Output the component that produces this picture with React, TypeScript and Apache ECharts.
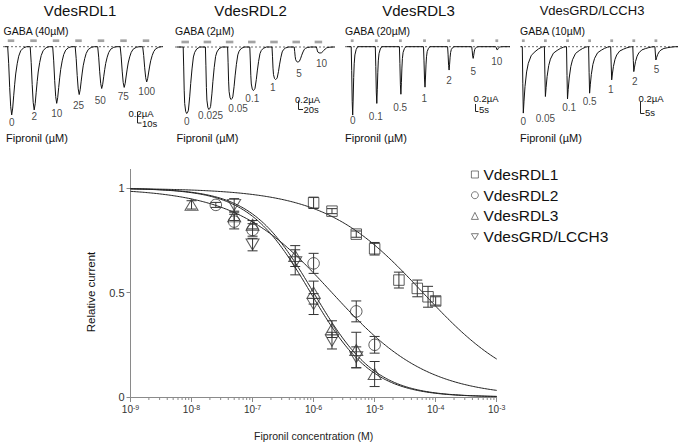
import React, { useEffect, useRef } from "react";
import * as echarts from "echarts";

const FONT = '"Liberation Sans", Arial, Helvetica, sans-serif';

// ---------- Top panels (current traces) ----------
const panelTitles = ["VdesRDL1", "VdesRDL2", "VdesRDL3", "VdesGRD/LCCH3"];
const gabaLabels = ["GABA (40µM)", "GABA (2µM)", "GABA (20µM)", "GABA (10µM)"];
const dosesRDL1 = ["0", "2", "10", "25", "50", "75", "100"];
const dosesRDL2 = ["0", "0.025", "0.05", "0.1", "1", "5", "10"];
const dosesRDL3 = ["0", "0.1", "0.5", "1", "2", "5", "10"];
const dosesGRD = ["0", "0.05", "0.1", "0.5", "1", "2", "5"];
// peak GABA currents (µA)
const peaksRDL1 = [1.24, 1.15, 1.03, 0.87, 0.76, 0.74, 0.64];
const peaksRDL2 = [1.33, 1.25, 1.05, 0.87, 0.65, 0.3, 0.12];
const peaksRDL3 = [1.64, 1.36, 1.14, 0.97, 0.56, 0.28, 0.08];
const peaksGRD = [0.8, 0.6, 0.63, 0.56, 0.4, 0.3, 0.16];

// ---------- Concentration-response data ----------
const seriesNames = ["VdesRDL1", "VdesRDL2", "VdesRDL3", "VdesGRD/LCCH3"];
const concRDL1 = [1e-6, 2e-6, 5e-6, 1e-5, 2.5e-5, 5e-5, 7.5e-5, 1e-4];
const relRDL1 = [0.93, 0.89, 0.78, 0.71, 0.56, 0.52, 0.48, 0.46];
const semRDL1 = [0.027, 0.012, 0.015, 0.03, 0.038, 0.04, 0.05, 0.02];
const concRDL2 = [2.5e-8, 5e-8, 1e-7, 1e-6, 5e-6, 1e-5];
const relRDL2 = [0.92, 0.84, 0.8, 0.64, 0.41, 0.25];
const semRDL2 = [0.012, 0.035, 0.03, 0.048, 0.05, 0.04];
const concRDL3 = [1e-8, 5e-8, 1e-7, 5e-7, 1e-6, 2e-6, 5e-6, 1e-5];
const relRDL3 = [0.92, 0.865, 0.825, 0.675, 0.5, 0.325, 0.225, 0.11];
const semRDL3 = [0.02, 0.02, 0.02, 0.05, 0.055, 0.04, 0.085, 0.06];
const concGRD = [5e-8, 1e-7, 5e-7, 1e-6, 2e-6, 5e-6];
const relGRD = [0.92, 0.73, 0.645, 0.445, 0.27, 0.19];
const semGRD = [0.03, 0.03, 0.06, 0.05, 0.04, 0.05];
// Hill fit parameters
const fitLogIC50 = [-4.21, -5.7, -6.0, -6.05];
const fitHill = [0.54, 0.55, 0.85, 0.85];
const yTickValues = [0, 0.5, 1];

// ---------- styles / layout ----------
// waveform templates: [dx px from peak tip, fraction of peak]
const T1 = [[-4, 0], [-3, 0.25], [-2, 0.6], [-1, 0.88], [0, 1], [1, 0.9], [2, 0.72], [3, 0.55], [4, 0.4], [5.5, 0.25], [7, 0.14], [9, 0.06], [12, 0.015], [15, 0]];
const T2 = [[-3.5, 0], [-3, 0.3], [-2.5, 0.65], [-2, 0.85], [-1, 0.97], [0, 1], [1, 0.98], [1.7, 0.95], [3, 0.75], [4, 0.55], [5.3, 0.33], [6.7, 0.15], [8, 0.08], [10, 0.03], [13, 0]];
const T3 = [[-1.5, 0], [-1, 0.35], [-0.5, 0.8], [0, 1], [0.5, 0.75], [1, 0.45], [1.5, 0.25], [2.2, 0.12], [3.5, 0.04], [5, 0]];
const T4 = [[-1, 0], [-0.5, 0.55], [0, 1], [0.7, 0.82], [1.7, 0.6], [3.3, 0.38], [5, 0.25], [8, 0.13], [11.7, 0.075], [15, 0.035], [18, 0.01], [20, 0]];

const panelDoses = [dosesRDL1, dosesRDL2, dosesRDL3, dosesGRD];
const panelPeaks = [peaksRDL1, peaksRDL2, peaksRDL3, peaksGRD];

const layout = [
  { xStart: 3, xEnd: 163, traceStart: 5, tip0: 11.7, sp: 22.5, k: 55, baseY: 46.7, barW: 6.5, barDx: -0.7, barDy: -6, tmpl: T1, titleX: 80, titleSize: 15, textX: 3.5, fipX: 6,
    labelOff: [[0, 8], [0, 7], [0, 10.5], [-0.7, 10.5], [-1.5, 11.5], [-1, 9.5], [0, 10]],
    scale: { tx: 128.5, ty: 113.5, vx: 137.5, vy1: 112, vy2: 123, hx2: 141.5, sLabel: "10s", sx: 142, sy: 123 } },
  { xStart: 175, xEnd: 335, traceStart: 177, tip0: 186.7, sp: 22.2, k: 50, baseY: 47, barW: 7.5, barDx: -1.5, barDy: -5, tmpl: T2, titleX: 250.5, titleSize: 15, textX: 175, fipX: 176.5,
    labelOff: [[0, 8.4], [1.7, 5.7], [7, 8.8], [-1, 8], [-2.7, 8.3], [1.3, 11], [1.7, 10]],
    scale: { tx: 295, ty: 99, vx: 298.5, vy1: 100.5, vy2: 109.5, hx2: 303, sLabel: "20s", sx: 303.5, sy: 109.5 } },
  { xStart: 345, xEnd: 510, traceStart: 347, tip0: 352.7, sp: 24.1, k: 41.7, baseY: 46.7, barW: 2.8, barDx: -0.5, barDy: -6, tmpl: T3, titleX: 418.5, titleSize: 15, textX: 345, fipX: 345,
    labelOff: [[0, 5], [-1, 13], [-0.7, 13], [-0.7, 11], [0, 10], [0, 13], [-0.6, 11.7]],
    scale: { tx: 473.5, ty: 98.5, vx: 475.5, vy1: 104, vy2: 111.5, hx2: 478.5, sLabel: "5s", sx: 479, sy: 109 } },
  { xStart: 520, xEnd: 678, traceStart: 521, tip0: 523.3, sp: 22.1, k: 83, baseY: 46.7, barW: 2.8, barDx: 0, barDy: -6, tmpl: T4, titleX: 592, titleSize: 13, textX: 520, fipX: 520,
    labelOff: [[0, 8.4], [0, 21.6], [1.7, 9], [0, 8.4], [-1, 10], [1, 10], [0.7, 10]],
    scale: { tx: 638.5, ty: 98.5, vx: 640.5, vy1: 101.5, vy2: 113.5, hx2: 644.5, sLabel: "5s", sx: 645, sy: 112 } },
];

const PANEL_TOP = 28;
const PANEL_BOTTOM = 132;

function buildTrace(i: number) {
  const p = layout[i];
  const pts: number[][] = [[(p.traceStart - p.tip0) / p.sp, 0]];
  panelPeaks[i].forEach((a, j) => {
    p.tmpl.forEach(([dx, f]) => pts.push([j + dx / p.sp, -a * f]));
  });
  pts.push([(p.xEnd - p.tip0) / p.sp, 0]);
  return pts;
}

function buildFit(g: number) {
  const pts: number[][] = [];
  for (let s = 0; s <= 240; s++) {
    const lx = -9 + (6 * s) / 240;
    const r = Math.pow(10, fitHill[g] * (lx - fitLogIC50[g]));
    pts.push([Math.pow(10, lx), 1 / (1 + r)]);
  }
  return pts;
}

const groups = [
  { conc: concRDL1, rel: relRDL1, sem: semRDL1, symbol: "rect", size: [10.5, 10.5] },
  { conc: concRDL2, rel: relRDL2, sem: semRDL2, symbol: "circle", size: [11.5, 11.5] },
  { conc: concRDL3, rel: relRDL3, sem: semRDL3, symbol: "triangle", size: [13, 11] },
  { conc: concGRD, rel: relGRD, sem: semGRD, symbol: "path://M0,0L12,0L6,10Z", size: [13, 11] },
];

const minorTickVals: number[] = [];
for (let e = -9; e < -3; e++) for (let m = 2; m <= 9; m++) minorTickVals.push(m * Math.pow(10, e));

export default function App() {
  const ref = useRef<HTMLDivElement>(null);
  useEffect(() => {
    if (!ref.current) return;
    const chart = echarts.init(ref.current, undefined, { renderer: "svg" });
    const M = 4; // main grid index

    const grids: any[] = layout.map((p) => ({
      left: p.xStart, top: PANEL_TOP, width: p.xEnd - p.xStart, height: PANEL_BOTTOM - PANEL_TOP,
    }));
    grids.push({ left: 130.5, top: 169.4, width: 366.2, height: 228.9 });

    const xAxes: any[] = layout.map((p, i) => ({
      type: "value", gridIndex: i, show: false,
      min: (p.xStart - p.tip0) / p.sp, max: (p.xEnd - p.tip0) / p.sp,
    }));
    xAxes.push({
      type: "log", logBase: 10, gridIndex: M, min: 1e-9, max: 1e-3, splitNumber: 6,
      axisLine: { lineStyle: { color: "#8a8a8a", width: 1 } },
      axisTick: { length: 5, lineStyle: { color: "#8a8a8a" } },
      splitLine: { show: false },
      axisLabel: {
        margin: 7,
        formatter: (v: number) => `{b|10}{s|${Math.round(Math.log10(v))}}`,
        rich: {
          b: { fontSize: 10, fontFamily: FONT, color: "#333", lineHeight: 10, verticalAlign: "bottom" },
          s: { fontSize: 7, fontFamily: FONT, color: "#333", lineHeight: 7, verticalAlign: "top" },
        },
      },
      name: "Fipronil concentration (M)", nameLocation: "middle", nameGap: 33,
      nameTextStyle: { fontSize: 10.5, fontFamily: FONT, color: "#222" },
    });

    const yAxes: any[] = layout.map((p, i) => ({
      type: "value", gridIndex: i, show: false,
      min: -(PANEL_BOTTOM - p.baseY) / p.k, max: (p.baseY - PANEL_TOP) / p.k,
    }));
    yAxes.push({
      type: "value", gridIndex: M, min: 0, max: 1.09,
      axisLine: { show: true, lineStyle: { color: "#8a8a8a", width: 1 } },
      axisTick: { show: true, length: 4, customValues: yTickValues, lineStyle: { color: "#8a8a8a" } },
      axisLabel: { customValues: yTickValues, formatter: (v: number) => String(v), fontSize: 11, fontFamily: FONT, color: "#333", margin: 6 },
      splitLine: { show: false },
    });

    const series: any[] = [];
    layout.forEach((p, i) => {
      const xmin = (p.xStart - p.tip0) / p.sp;
      const xmax = (p.xEnd - p.tip0) / p.sp;
      series.push({
        type: "line", xAxisIndex: i, yAxisIndex: i, data: [[xmin, 0], [xmax, 0]], symbol: "none", silent: true, z: 1,
        lineStyle: { type: [2, 2], width: 0.8, color: "#444" },
      });
      series.push({
        type: "line", xAxisIndex: i, yAxisIndex: i, data: buildTrace(i), symbol: "none", silent: true, z: 2,
        lineStyle: { width: 1, color: "#111" },
      });
      series.push({
        type: "scatter", xAxisIndex: i, yAxisIndex: i, silent: true, z: 3,
        data: panelPeaks[i].map((_, j) => [j, 0]),
        symbol: "rect", symbolSize: [p.barW, 2.7], symbolOffset: [p.barDx, p.barDy],
        itemStyle: { color: "#8c8c8c" },
      });
      series.push({
        type: "scatter", xAxisIndex: i, yAxisIndex: i, silent: true, z: 4, symbolSize: 1,
        itemStyle: { color: "rgba(0,0,0,0)" },
        data: panelPeaks[i].map((a, j) => ({ value: [j, -a], label: { offset: p.labelOff[j] } })),
        label: {
          show: true, position: "inside", fontSize: 10, fontFamily: FONT, color: "#111",
          formatter: (pp: any) => panelDoses[i][pp.dataIndex],
        },
      });
    });

    // fits
    groups.forEach((_, g) => {
      series.push({
        type: "line", name: "fit" + g, xAxisIndex: M, yAxisIndex: M, data: buildFit(g), symbol: "none", silent: true, z: 2,
        lineStyle: { width: 1, color: "#222" },
      });
    });
    // error bars
    groups.forEach((gr, g) => {
      series.push({
        type: "custom", name: "err" + g, xAxisIndex: M, yAxisIndex: M, silent: true, z: 3,
        data: gr.conc.map((c, j) => [c, gr.rel[j], gr.sem[j]]),
        encode: { x: 0, y: 1 },
        renderItem: (params: any, api: any) => {
          const x = api.value(0), y = api.value(1), e = api.value(2);
          const t = api.coord([x, y + e]);
          const b = api.coord([x, y - e]);
          const hw = 5;
          const st = { stroke: "#333", lineWidth: 1 };
          return {
            type: "group",
            children: [
              { type: "line", shape: { x1: t[0], y1: t[1], x2: b[0], y2: b[1] }, style: st },
              { type: "line", shape: { x1: t[0] - hw, y1: t[1], x2: t[0] + hw, y2: t[1] }, style: st },
              { type: "line", shape: { x1: b[0] - hw, y1: b[1], x2: b[0] + hw, y2: b[1] }, style: st },
            ],
          };
        },
      });
    });
    // symbols
    groups.forEach((gr, g) => {
      series.push({
        type: "scatter", name: seriesNames[g], xAxisIndex: M, yAxisIndex: M, z: 4,
        data: gr.conc.map((c, j) => [c, gr.rel[j]]),
        symbol: gr.symbol, symbolSize: gr.size,
        itemStyle: { color: "rgba(255,255,255,0)", borderColor: "#333", borderWidth: 1 },
      });
    });
    // minor log ticks
    series.push({
      type: "custom", name: "minor", xAxisIndex: M, yAxisIndex: M, silent: true, clip: false, z: 5,
      data: minorTickVals.map((v) => [v, 0]),
      encode: { x: 0, y: 1 },
      renderItem: (params: any, api: any) => {
        const pt = api.coord([api.value(0), 0]);
        return { type: "line", shape: { x1: pt[0], y1: pt[1], x2: pt[0], y2: pt[1] + 3 }, style: { stroke: "#8a8a8a", lineWidth: 1 } };
      },
    });

    const txt = (text: string, x: number, y: number, size: number, align = "left", extra: any = {}) => ({
      type: "text", x, y, silent: true, ...extra,
      style: { text, fontSize: size, fontFamily: FONT, fill: "#111", textAlign: align, textVerticalAlign: "middle", align, verticalAlign: "middle" },
    });
    const ln = (x1: number, y1: number, x2: number, y2: number) => ({
      type: "line", silent: true, shape: { x1, y1, x2, y2 }, style: { stroke: "#222", lineWidth: 1 },
    });

    const graphics: any[] = [];
    layout.forEach((p, i) => {
      graphics.push(txt(panelTitles[i], p.titleX, 10.5, p.titleSize, "center"));
      graphics.push(txt(gabaLabels[i], p.textX, 31, 10.5));
      graphics.push(txt("Fipronil (µM)", p.fipX, 137.5, 11));
      const s = p.scale;
      graphics.push(txt("0.2µA", s.tx, s.ty, 9.5));
      graphics.push(ln(s.vx, s.vy1, s.vx, s.vy2));
      graphics.push(ln(s.vx, s.vy2, s.hx2, s.vy2));
      graphics.push(txt(s.sLabel, s.sx, s.sy, 9.5));
    });
    graphics.push(txt("Relative current", 91, 292, 11.5, "center", { rotation: Math.PI / 2 }));

    chart.setOption({
      animation: false,
      backgroundColor: "#fff",
      textStyle: { fontFamily: FONT },
      grid: grids,
      xAxis: xAxes,
      yAxis: yAxes,
      legend: {
        data: seriesNames, orient: "vertical", left: 466, top: 161, padding: 5, itemWidth: 7, itemHeight: 7, itemGap: 3.7,
        selectedMode: false,
        itemStyle: { borderWidth: 0.8 },
        textStyle: { fontSize: 15.5, fontFamily: FONT, color: "#111", lineHeight: 17 },
      },
      graphic: graphics,
      series,
    });
    return () => chart.dispose();
  }, []);
  return <div ref={ref} style={{ position: "fixed", left: 0, top: 0, width: 683, height: 446, background: "#fff" }} />;
}
